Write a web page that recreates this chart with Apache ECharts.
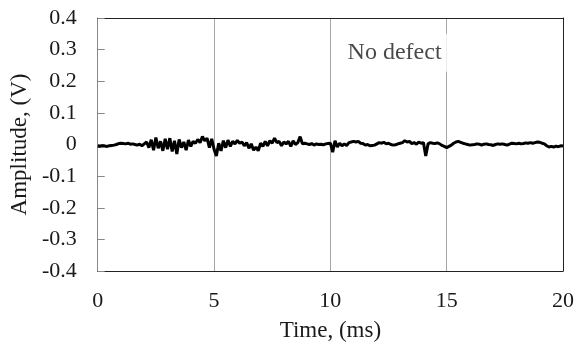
<!DOCTYPE html>
<html>
<head>
<meta charset="utf-8">
<script src="https://cdn.jsdelivr.net/npm/echarts@6/dist/echarts.min.js"></script>
<style>html,body{margin:0;padding:0;background:#fff}#c{width:577px;height:347px}</style>
</head>
<body>
<div id="c"></div>
<script>
// sampling step of the recorded waveform (ms)
const dt = 0.1;
// amplitude in V, one sample every 0.1 ms from 0 to 20 ms
const amplitude = [
  -0.005,-0.006,-0.004,-0.005,-0.006,-0.004,-0.003,-0.002,0.000,0.003,0.004,
  0.003,0.002,0.004,0.001,0.002,0.000,-0.002,0.001,-0.004,0.002,
  0.008,-0.010,0.015,-0.018,0.022,-0.012,0.010,-0.020,0.018,-0.015,
  0.020,-0.022,0.012,-0.030,0.016,-0.010,0.008,-0.018,0.014,-0.006,
  0.010,0.004,0.016,0.006,0.025,0.012,0.020,-0.010,0.018,-0.015,
  -0.036,0.004,-0.020,0.012,-0.010,0.014,-0.006,0.010,0.002,0.013,
  0.004,0.008,-0.004,0.006,-0.012,0.002,-0.018,-0.008,-0.020,0.004,
  -0.006,0.010,-0.004,0.012,0.004,0.020,0.006,0.010,-0.004,0.008,
  0.002,0.010,-0.006,0.012,0.000,0.006,0.025,0.002,0.004,0.002,
  0.000,0.003,-0.002,0.002,0.000,0.001,-0.001,0.002,0.003,0.004,
  -0.024,0.012,-0.008,0.004,-0.004,0.002,-0.003,0.006,0.008,0.010,
  0.008,0.010,0.004,0.003,-0.002,0.000,-0.004,-0.003,-0.002,0.002,
  0.006,0.004,0.007,0.002,0.004,0.000,-0.002,-0.001,0.002,0.004,
  0.006,0.012,0.008,0.010,0.003,0.006,0.001,0.008,0.004,0.006,
  -0.036,0.002,0.006,0.004,0.003,0.005,0.002,-0.003,-0.006,-0.010,
  -0.006,-0.002,0.004,0.008,0.010,0.007,0.004,0.002,0.000,-0.002,
  -0.001,0.000,0.002,0.001,-0.002,0.001,0.002,0.000,-0.001,-0.003,
  0.000,0.002,0.001,0.002,0.000,-0.002,0.001,0.004,0.003,0.002,
  0.004,0.002,0.003,0.005,0.004,0.006,0.004,0.006,0.008,0.007,
  0.004,0.002,-0.004,-0.008,-0.006,-0.008,-0.005,-0.007,-0.004,-0.005
];
const xTicks = [0, 5, 10, 15, 20];
const yTicks = [-0.4, -0.3, -0.2, -0.1, 0, 0.1, 0.2, 0.3, 0.4];
const annotationText = 'No defect';
const annotationPos = [12.76, 0.29];
const xTitle = 'Time, (ms)';
const yTitle = 'Amplitude, (V)';

const seriesData = amplitude.map((v, i) => [+(i * dt).toFixed(1), v]);
const FONT = 'Liberation Serif, Times New Roman, serif';
const TXT = '#1a1a1a';

const chart = echarts.init(document.getElementById('c'), null, {renderer: 'canvas'});
chart.setOption({
  animation: false,
  backgroundColor: '#fff',
  grid: {left: 96, right: 14, top: 18, bottom: 74, containLabel: false},
  xAxis: [{
    type: 'value', min: xTicks[0], max: xTicks[xTicks.length - 1], interval: 5,
    position: 'bottom',
    name: xTitle, nameLocation: 'middle', nameGap: 48,
    nameTextStyle: {fontFamily: FONT, fontSize: 23, color: TXT},
    axisLine: {show: true, onZero: false, lineStyle: {color: '#222', width: 1}},
    axisTick: {show: false},
    axisLabel: {fontFamily: FONT, fontSize: 22, color: TXT, margin: 19},
    splitLine: {show: true, showMinLine: false, showMaxLine: false, lineStyle: {color: '#a6a6a6', width: 1}}
  }, {
    type: 'value', min: xTicks[0], max: xTicks[xTicks.length - 1], interval: 5,
    position: 'top',
    axisLine: {show: true, onZero: false, lineStyle: {color: '#222', width: 1}},
    axisTick: {show: false}, axisLabel: {show: false}, splitLine: {show: false}
  }],
  yAxis: [{
    type: 'value', min: yTicks[0], max: yTicks[yTicks.length - 1], interval: 0.1,
    position: 'left',
    name: yTitle, nameLocation: 'middle', nameGap: 63, nameRotate: 90,
    nameTextStyle: {fontFamily: FONT, fontSize: 23, color: TXT},
    axisLine: {show: true, onZero: false, lineStyle: {color: '#888', width: 1}},
    axisTick: {show: true, inside: true, length: 7, lineStyle: {color: '#888'}},
    axisLabel: {fontFamily: FONT, fontSize: 22, color: TXT, margin: 21,
      formatter: v => Math.abs(v) < 1e-9 ? '0' : v.toFixed(1)},
    splitLine: {show: false}
  }, {
    type: 'value', min: yTicks[0], max: yTicks[yTicks.length - 1], interval: 0.1,
    position: 'right',
    axisLine: {show: true, onZero: false, lineStyle: {color: '#222', width: 1}},
    axisTick: {show: false}, axisLabel: {show: false}, splitLine: {show: false}
  }],
  series: [{
    type: 'line', xAxisIndex: 0, yAxisIndex: 0,
    data: seriesData, showSymbol: false, symbol: 'none',
    lineStyle: {color: '#000', width: 3}, z: 3
  }, {
    type: 'scatter', xAxisIndex: 0, yAxisIndex: 0,
    data: [annotationPos], symbolSize: 0, z: 4,
    label: {show: true, position: 'inside', formatter: annotationText,
      fontFamily: FONT, fontSize: 24, color: TXT,
      backgroundColor: '#fff', padding: [7, 8]}
  }]
});
</script>
</body>
</html>
